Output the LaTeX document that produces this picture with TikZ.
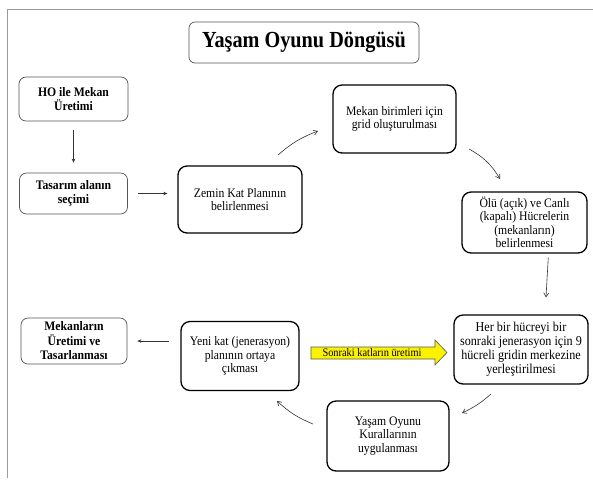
\documentclass[tikz,border=0pt]{standalone}
\usepackage{fontspec}
\setmainfont{Liberation Serif}[FakeStretch=0.9]
\newfontfamily\titlefont{Liberation Serif}[FakeStretch=0.88]
\usetikzlibrary{arrows.meta,calc}
\definecolor{framegray}{HTML}{9A9A9A}
\definecolor{thinline}{HTML}{555555}
\definecolor{arrowgray}{HTML}{333333}
\definecolor{arrowyellow}{HTML}{FAF200}
\tikzset{
  thinbox/.style={draw=thinline, line width=0.7pt, rounded corners=7pt, align=center, inner sep=2pt,
    font=\fontsize{13}{14.5}\selectfont\bfseries},
  thickbox/.style={draw=black, line width=1.3pt, rounded corners=9pt, align=center, inner sep=2pt,
    font=\fontsize{13}{13.5}\selectfont},
  conn/.style={draw=arrowgray, line width=0.6pt, -{Stealth[length=4pt,width=3.5pt]}},
  cconn/.style={draw=arrowgray, line width=0.6pt, -{Straight Barb[length=4pt,width=5pt]}},
}
\begin{document}
\begin{tikzpicture}[x=1pt,y=-1pt]
\useasboundingbox (0,0) rectangle (593,483);
% frame
\draw[framegray, line width=1.5pt] (7.5,478) -- (7.5,9.5) -- (593,9.5);
% title
\node[draw=thinline, line width=0.7pt, rounded corners=6pt, minimum width=230pt, minimum height=41pt,
  font=\titlefont\fontsize{23}{26}\selectfont\bfseries] (title) at (304,42.5) {Yaşam Oyunu Döngüsü};
% boxes
\node[thinbox, minimum width=109pt, minimum height=44pt] (ho) at (73.5,99) {HO ile Mekan\\Üretimi};
\node[thinbox, minimum width=108pt, minimum height=41pt] (tas) at (73.5,193.5) {Tasarım alanın\\seçimi};
\node[thinbox, minimum width=106pt, minimum height=46pt] (mekl) at (74,341) {Mekanların\\Üretimi ve\\Tasarlanması};
\node[thickbox, minimum width=124pt, minimum height=67pt] (zem) at (240,199.5) {Zemin Kat Planının\\belirlenmesi};
\node[thickbox, minimum width=123pt, minimum height=68pt] (mek) at (394.5,119) {Mekan birimleri için\\grid oluşturulması};
\node[thickbox, minimum width=125pt, minimum height=61pt] (olu) at (524.5,222.5) {Ölü (açık) ve Canlı\\(kapalı) Hücrelerin\\(mekanların)\\belirlenmesi};
\node[thickbox, minimum width=134pt, minimum height=69pt, font=\fontsize{13.5}{14}\selectfont] (her) at (521,349.5) {Her bir hücreyi bir\\sonraki jenerasyon için 9\\hücreli gridin merkezine\\yerleştirilmesi};
\node[thickbox, minimum width=122pt, minimum height=70pt] (kur) at (388,436) {Yaşam Oyunu\\Kurallarının\\uygulanması};
\node[thickbox, minimum width=118pt, minimum height=69pt] (yeni) at (240,356) {Yeni kat (jenerasyon)\\planının ortaya\\çıkması};
% yellow arrow
\draw[fill=arrowyellow, draw=thinline, line width=0.6pt]
  (311,347) -- (435,347) -- (435,340) -- (447,352.5) -- (435,365) -- (435,359) -- (311,359) -- cycle;
\node[font=\fontsize{11.5}{12}\selectfont, inner sep=0pt] (sonr) at (372,353) {Sonraki katların üretimi};
% connectors
\draw[conn, shorten <=9pt, shorten >=10pt] (ho.south) -- (tas.north);
\draw[conn, shorten <=10pt, shorten >=10pt] (tas.east) -- (tas.east -| zem.west);
\draw[conn, shorten <=11pt, shorten >=10pt] (yeni.west |- mekl.east) -- (mekl.east);
\draw[cconn, shorten <=4pt, shorten >=17pt] ([xshift=24pt]olu.south) -- ([xshift=24pt]her.north);
\coordinate (a1s) at (278,155);
\coordinate (a1e) at (318,131);
\coordinate (a2s) at (469,149);
\coordinate (a2e) at (500,179);
\coordinate (a3s) at (491,394);
\coordinate (a3e) at (462,413);
\coordinate (a4s) at (313,424);
\coordinate (a4e) at (277,401);
\draw[cconn] (a1s) to[bend left=10] (a1e);
\draw[cconn] (a2s) to[bend left=15] (a2e);
\draw[cconn] (a3s) to[bend left=8] (a3e);
\draw[cconn] (a4s) to[bend left=10] (a4e);
\end{tikzpicture}
\end{document}
